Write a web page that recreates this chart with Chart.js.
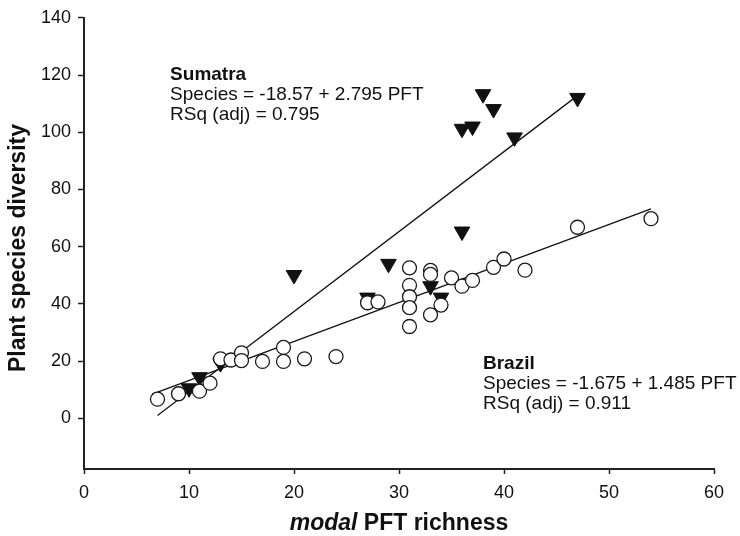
<!DOCTYPE html>
<html>
<head>
<meta charset="utf-8">
<title>Plant species diversity vs modal PFT richness</title>
<script src="https://cdn.jsdelivr.net/npm/chart.js@4.4.0/dist/chart.umd.min.js"></script>
<style>
  html, body { margin: 0; padding: 0; background: #ffffff; }
  canvas { display: block; }
</style>
</head>
<body>
<canvas id="scatter-chart" width="740" height="536"></canvas>
<script>
// Brazil plots (open circles)
const brazilX = [7, 9, 11, 12, 13, 14, 15, 15, 17, 19, 19, 21, 24, 27, 28,
                 31, 31, 31, 31, 31, 33, 33, 33, 34, 35, 36, 37, 39, 40, 42, 47, 54];
const brazilY = [6.7, 8.6, 9.5, 12.3, 20.8, 20.4, 22.9, 20.2, 19.9, 24.8, 19.9, 20.8, 21.6, 40.4, 40.7,
                 52.6, 46.5, 42.5, 38.7, 32.1, 51.7, 50.3, 36.2, 39.6, 49.1, 46.2, 48.2, 52.8, 55.7, 51.8, 66.8, 69.8];

// Sumatra plots (filled triangles)
const sumatraX = [10, 11, 13, 20, 27, 29, 33, 34, 36, 36, 37, 38, 39, 41, 47];
const sumatraY = [10.5, 14.4, 19.3, 50.1, 42.2, 54.0, 46.2, 42.2, 65.3, 101.2, 102.0, 113.3, 108.1, 98.2, 112.0];

// fitted lines, end points
const sumatraFitX = [7, 47];
const sumatraFitY = [1.0, 112.8];
const brazilFitX = [6.5, 54];
const brazilFitY = [8.5, 73.2];

const xTicks = [0, 10, 20, 30, 40, 50, 60];
const yTicks = [0, 20, 40, 60, 80, 100, 120, 140];

const sumatraText = ['Sumatra', 'Species = -18.57 + 2.795 PFT', 'RSq (adj) = 0.795'];
const brazilText = ['Brazil', 'Species = -1.675 + 1.485 PFT', 'RSq (adj) = 0.911'];

const FONT = '"Liberation Sans", Arial, Helvetica, sans-serif';
const INK = '#111111';

function toPoints(xs, ys) {
    return xs.map(function (x, i) { return { x: x, y: ys[i] }; });
}

// equations, site names and axis titles drawn on top of the chart
const figureText = {
    id: 'figureText',
    afterDraw(chart) {
        const ctx = chart.ctx;
        const xs = chart.scales.x;
        const ys = chart.scales.y;
        const area = chart.chartArea;
        ctx.save();
        ctx.fillStyle = INK;
        ctx.textBaseline = 'alphabetic';
        ctx.textAlign = 'left';

        function block(lines, vx, vy) {
            const px = xs.getPixelForValue(vx);
            let py = ys.getPixelForValue(vy);
            lines.forEach(function (line, i) {
                ctx.font = (i === 0 ? 'bold ' : '') + '19px ' + FONT;
                ctx.fillText(line, px, py);
                py += 20;
            });
        }
        block(sumatraText, 8.2, 118.1);
        block(brazilText, 38.0, 17.1);

        // x title: "modal" in italics
        ctx.font = 'italic bold 23px ' + FONT;
        const w1 = ctx.measureText('modal ').width;
        ctx.font = 'bold 23px ' + FONT;
        const w2 = ctx.measureText('PFT richness').width;
        let tx = (area.left + area.right) / 2 - (w1 + w2) / 2;
        ctx.font = 'italic bold 23px ' + FONT;
        ctx.fillText('modal ', tx, 530);
        ctx.font = 'bold 23px ' + FONT;
        ctx.fillText('PFT richness', tx + w1, 530);

        // y title
        ctx.translate(25, 248);
        ctx.rotate(-Math.PI / 2);
        ctx.textAlign = 'center';
        ctx.fillText('Plant species diversity', 0, 0);
        ctx.restore();
    }
};

const ctx = document.getElementById('scatter-chart').getContext('2d');
const chart = new Chart(ctx, {
    type: 'scatter',
    data: {
        datasets: [
            {
                label: 'Brazil',
                data: toPoints(brazilX, brazilY),
                pointStyle: 'circle',
                pointRadius: 7,
                pointBackgroundColor: '#ffffff',
                pointBorderColor: '#1a1a1a',
                pointBorderWidth: 1.3
            },
            {
                label: 'Sumatra',
                data: toPoints(sumatraX, sumatraY),
                pointStyle: 'triangle',
                pointRotation: 180,
                pointRadius: 9,
                pointBackgroundColor: INK,
                pointBorderColor: INK,
                pointBorderWidth: 1
            },
            {
                label: 'Sumatra fit',
                data: toPoints(sumatraFitX, sumatraFitY),
                showLine: true,
                pointRadius: 0,
                borderColor: INK,
                borderWidth: 1.3
            },
            {
                label: 'Brazil fit',
                data: toPoints(brazilFitX, brazilFitY),
                showLine: true,
                pointRadius: 0,
                borderColor: INK,
                borderWidth: 1.3
            }
        ]
    },
    options: {
        responsive: false,
        animation: false,
        devicePixelRatio: 1,
        layout: { padding: { left: 0, top: 15, right: 26, bottom: 0 } },
        plugins: {
            legend: { display: false },
            tooltip: { enabled: false }
        },
        scales: {
            x: {
                type: 'linear',
                min: 0,
                max: 60,
                afterBuildTicks: function (scale) {
                    scale.ticks = xTicks.map(function (v) { return { value: v }; });
                },
                afterFit: function (scale) { scale.height = 67; },
                grid: {
                    drawOnChartArea: false,
                    tickLength: 5,
                    tickColor: '#222222',
                    tickWidth: 1.5
                },
                border: { display: true, color: '#222222', width: 2 },
                ticks: {
                    padding: 8,
                    color: INK,
                    font: { family: FONT, size: 18 },
                    maxRotation: 0
                }
            },
            y: {
                type: 'linear',
                min: -17.7,
                max: 140,
                afterBuildTicks: function (scale) {
                    scale.ticks = yTicks.map(function (v) { return { value: v }; });
                },
                afterFit: function (scale) { scale.width = 84; },
                grid: {
                    drawOnChartArea: false,
                    tickLength: 6,
                    tickColor: '#222222',
                    tickWidth: 1.5
                },
                border: { display: true, color: '#222222', width: 2 },
                ticks: {
                    padding: 7,
                    color: INK,
                    font: { family: FONT, size: 18 }
                }
            }
        }
    },
    plugins: [figureText]
});
</script>
</body>
</html>
